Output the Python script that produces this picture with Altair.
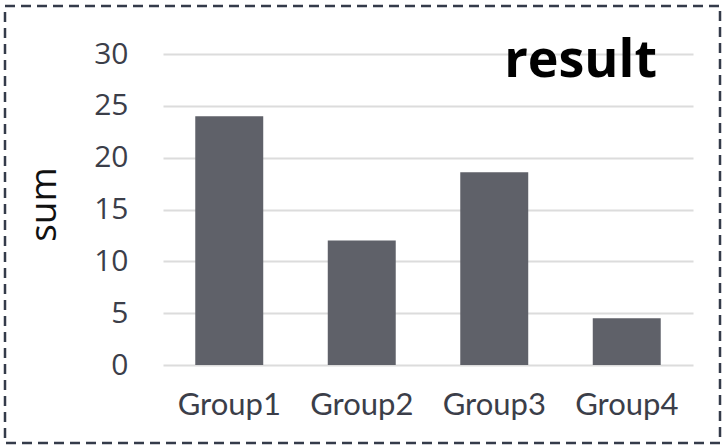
import altair as alt
import pandas as pd

groups = ["Group1", "Group2", "Group3", "Group4"]
sums = [24.0, 12.0, 18.6, 4.5]

df = pd.DataFrame({"group": groups, "sum": sums})

TEXT = "#3b3e49"

bars = alt.Chart(df).mark_bar(color="#5f6169").encode(
    x=alt.X("group:N", sort=groups, title=None,
            scale=alt.Scale(paddingInner=0.487, paddingOuter=0.2435),
            axis=alt.Axis(labelAngle=0, labelFont="Lato", labelFontSize=31,
                          labelColor=TEXT, labelPadding=25, ticks=False,
                          domain=False, grid=False)),
    y=alt.Y("sum:Q", title="sum",
            scale=alt.Scale(domain=[0, 30], nice=False),
            axis=alt.Axis(values=[0, 5, 10, 15, 20, 25, 30],
                          labelFont="Open Sans", labelFontSize=30, labelColor=TEXT,
                          labelPadding=35, ticks=False, domain=False,
                          grid=True, gridColor="#dcdcdc", gridWidth=2,
                          titleFont="Open Sans", titleFontSize=37,
                          titleFontWeight=500, titleColor="#111111",
                          titlePadding=30, titleY=150)),
)

title_text = alt.Chart(pd.DataFrame({"t": ["result"]})).mark_text(
    font="Open Sans", fontSize=52, fontWeight="bold", color="#000000",
    align="right", baseline="alphabetic"
).encode(text="t:N", x=alt.value(494), y=alt.value(23))

border = alt.Chart(pd.DataFrame({"b": [0]})).mark_rect(
    fill=None, filled=False, stroke="#343b4a", strokeWidth=2.5,
    strokeDash=[10, 6], clip=False
).encode(x=alt.value(-158), x2=alt.value(557), y=alt.value(-48), y2=alt.value(389))

chart = alt.layer(bars, title_text, border).properties(
    width=530, height=311,
    autosize=alt.AutoSizeParams(type="none"),
    padding={"left": 163, "top": 54, "right": 31, "bottom": 80},
).configure_view(stroke=None)

chart.save("out.html", embed_options={"renderer": "svg", "actions": False})
